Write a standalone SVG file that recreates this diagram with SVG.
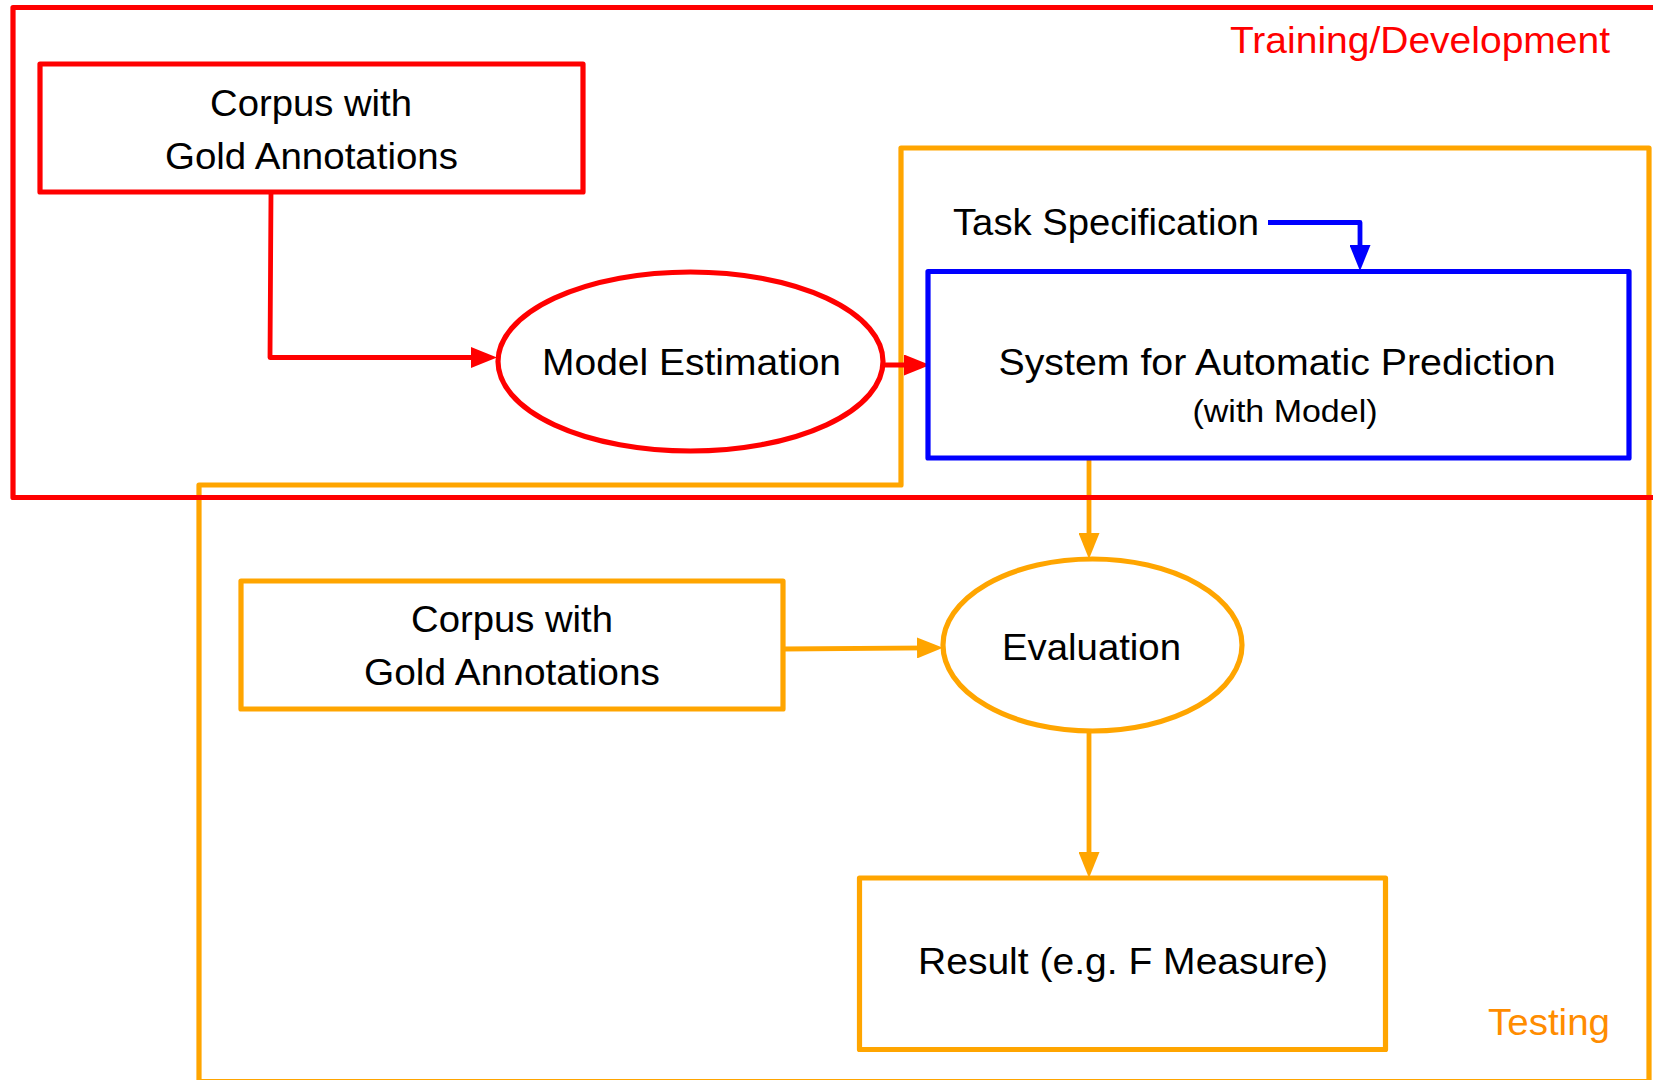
<svg xmlns="http://www.w3.org/2000/svg" width="1653" height="1080" viewBox="0 0 1653 1080">
<defs>
<style>
text{font-family:"Liberation Sans",Arial,sans-serif;font-size:37px;fill:#000}
.lbl{text-anchor:middle}
.small{font-size:31px}
.box{fill:none;stroke-width:5.2;stroke-linejoin:round}
.red{stroke:#ff0000}
.orange{stroke:#ffa500}
.blue{stroke:#0000ff}
.con{fill:none;stroke-width:4.8;stroke-linejoin:round}
</style>
<marker id="ah-red" viewBox="0 0 26 21" refX="16" refY="10.5" markerWidth="26" markerHeight="21" markerUnits="userSpaceOnUse" orient="auto"><path d="M0,0 L26,10.5 L0,21 Z" fill="#ff0000"/></marker>
<marker id="ah-blue" viewBox="0 0 26 21" refX="16" refY="10.5" markerWidth="26" markerHeight="21" markerUnits="userSpaceOnUse" orient="auto"><path d="M0,0 L26,10.5 L0,21 Z" fill="#0000ff"/></marker>
<marker id="ah-orange" viewBox="0 0 26 21" refX="16" refY="10.5" markerWidth="26" markerHeight="21" markerUnits="userSpaceOnUse" orient="auto"><path d="M0,0 L26,10.5 L0,21 Z" fill="#ffa500"/></marker>
</defs>
<rect width="1653" height="1080" fill="#fff"/>

<g id="testing-frame">
<path class="box orange" d="M901,148 L1649,148 L1649,1081.5 L199,1081.5 L199,485 L901,485 Z"/>
<text x="1610" y="1035" style="fill:#ff8c00;text-anchor:end" textLength="122" lengthAdjust="spacingAndGlyphs">Testing</text>
</g>

<g id="connectors">
<path class="con red" d="M271,192 L270,357.5 L487,357.5" marker-end="url(#ah-red)"/>
<path class="con red" d="M884,365 L920,365" marker-end="url(#ah-red)"/>
<path class="con blue" d="M1268,222.5 L1360,222.5 L1360,261" marker-end="url(#ah-blue)"/>
<path class="con orange" d="M1089,458 L1089,549" marker-end="url(#ah-orange)"/>
<path class="con orange" d="M783,649 L933,647.8" marker-end="url(#ah-orange)"/>
<path class="con orange" d="M1089,731 L1089,868" marker-end="url(#ah-orange)"/>
</g>

<g id="training-frame">
<rect class="box red" x="13" y="7.5" width="1700" height="490"/>
<text x="1610" y="53" style="fill:#ff0000;text-anchor:end" textLength="380" lengthAdjust="spacingAndGlyphs">Training/Development</text>
</g>

<g id="corpus-train">
<rect class="box red" x="40" y="64" width="543" height="128"/>
<text class="lbl" x="311" y="116" textLength="202" lengthAdjust="spacingAndGlyphs">Corpus with</text>
<text class="lbl" x="311.5" y="168.5" textLength="293" lengthAdjust="spacingAndGlyphs">Gold Annotations</text>
</g>

<g id="model-estimation">
<ellipse class="box red" cx="690.5" cy="361.5" rx="192.5" ry="89.5"/>
<text class="lbl" x="691.5" y="375" textLength="299" lengthAdjust="spacingAndGlyphs">Model Estimation</text>
</g>

<g id="task-spec">
<text x="953" y="235" textLength="306" lengthAdjust="spacingAndGlyphs">Task Specification</text>
</g>

<g id="system">
<rect class="box blue" x="928" y="271.5" width="701" height="186.5"/>
<text class="lbl" x="1277" y="375" textLength="557" lengthAdjust="spacingAndGlyphs">System for Automatic Prediction</text>
<text class="lbl small" x="1285" y="422" textLength="185" lengthAdjust="spacingAndGlyphs">(with Model)</text>
</g>

<g id="corpus-test">
<rect class="box orange" x="241" y="581" width="542" height="128"/>
<text class="lbl" x="512" y="632" textLength="202" lengthAdjust="spacingAndGlyphs">Corpus with</text>
<text class="lbl" x="512" y="685" textLength="296" lengthAdjust="spacingAndGlyphs">Gold Annotations</text>
</g>

<g id="evaluation">
<ellipse class="box orange" cx="1092.5" cy="645" rx="149.5" ry="86"/>
<text class="lbl" x="1091.5" y="659.5" textLength="179" lengthAdjust="spacingAndGlyphs">Evaluation</text>
</g>

<g id="result">
<rect class="box orange" x="859.5" y="878" width="526" height="171.5"/>
<text class="lbl" x="1123" y="974" textLength="410" lengthAdjust="spacingAndGlyphs">Result (e.g. F Measure)</text>
</g>
</svg>
